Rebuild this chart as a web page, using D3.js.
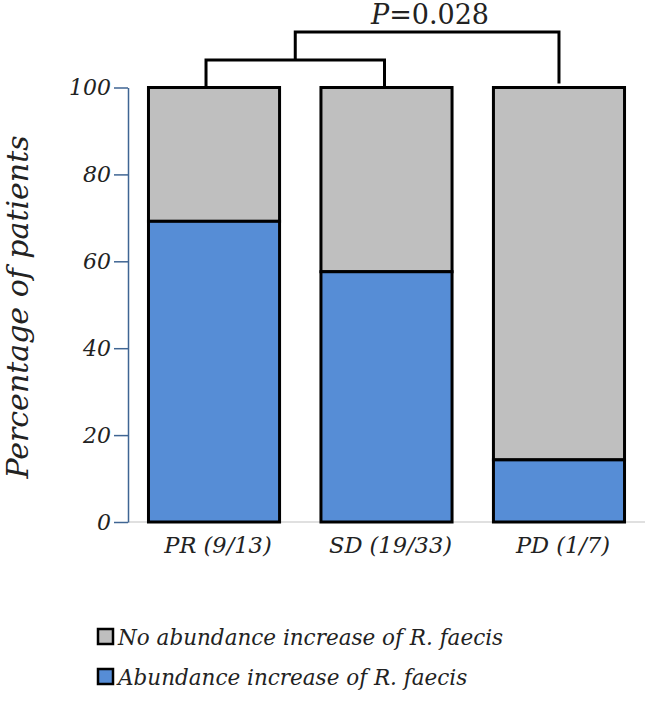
<!DOCTYPE html>
<html>
<head>
<meta charset="utf-8">
<script src="https://cdn.jsdelivr.net/npm/d3@7"></script>
<style>
  body { margin: 0; background: #fff; }
  svg { display: block; }
</style>
</head>
<body>
<svg id="chart" width="650" height="704"></svg>
<script>
const groups = ['PR (9/13)', 'SD (19/33)', 'PD (1/7)'];
const increased = [69.2, 57.6, 14.3];
const notIncreased = [30.8, 42.4, 85.7];
const yTicks = [0, 20, 40, 60, 80, 100];
const legendLabels = ['No abundance increase of R. faecis', 'Abundance increase of R. faecis'];

const blue = '#568dd6';
const grey = '#bfbfbf';
const axisBlue = '#3f6593';
const serif = '"DejaVu Serif", "Liberation Serif", serif';

const svg = d3.select('#chart')
    .attr('font-family', serif)
    .attr('font-style', 'italic');

const x = d3.scaleBand()
    .domain(groups)
    .range([129.5, 643.5])
    .paddingInner(0.24)
    .paddingOuter(0.11);

const y = d3.scaleLinear()
    .domain([0, 100])
    .range([522, 87.5]);

// light baseline under the bars
svg.append('line')
    .attr('x1', 128).attr('x2', 645)
    .attr('y1', y(0)).attr('y2', y(0))
    .attr('stroke', '#d6d6d6')
    .attr('stroke-width', 1.5);

const yAxis = svg.append('g')
    .attr('transform', 'translate(128,0)')
    .call(d3.axisLeft(y).tickValues(yTicks).tickSize(14).tickSizeOuter(0).tickPadding(3));
yAxis.attr('font-family', serif).attr('font-size', 22);
yAxis.select('.domain').attr('stroke', axisBlue).attr('stroke-width', 1.5);
yAxis.selectAll('.tick line').attr('stroke', axisBlue).attr('stroke-width', 1.5);
yAxis.selectAll('.tick text').attr('fill', '#222');

const rows = groups.map((g, i) => ({ g, inc: increased[i], no: notIncreased[i] }));

const bars = svg.append('g');
// grey part on top
bars.selectAll('.no')
    .data(rows)
    .enter()
    .append('rect')
    .attr('x', d => x(d.g))
    .attr('y', d => y(d.inc + d.no))
    .attr('width', x.bandwidth())
    .attr('height', d => y(d.inc) - y(d.inc + d.no))
    .attr('fill', grey)
    .attr('stroke', '#000')
    .attr('stroke-width', 3);
// blue part at the bottom
bars.selectAll('.inc')
    .data(rows)
    .enter()
    .append('rect')
    .attr('x', d => x(d.g))
    .attr('y', d => y(d.inc))
    .attr('width', x.bandwidth())
    .attr('height', d => y(0) - y(d.inc))
    .attr('fill', blue)
    .attr('stroke', '#000')
    .attr('stroke-width', 3);

// category labels
svg.append('g').selectAll('text')
    .data(groups)
    .enter()
    .append('text')
    .attr('x', d => x(d) + x.bandwidth() / 2 + 4)
    .attr('y', 553)
    .attr('text-anchor', 'middle')
    .attr('font-size', 22.5)
    .attr('fill', '#222')
    .text(d => d);

// axis title
svg.append('text')
    .attr('transform', 'translate(28,307) rotate(-90)')
    .attr('text-anchor', 'middle')
    .attr('font-size', 30)
    .attr('fill', '#222')
    .text('Percentage of patients');

// significance brackets
const mid = g => x(g) + x.bandwidth() / 2;
const barTop = y(100);
const lowY = 60, highY = 32;
const leftX = mid(groups[0]) - 8, rightX = mid(groups[1]) - 2;
const joinX = (leftX + rightX) / 2;
svg.append('path')
    .attr('d', `M${leftX},${barTop} V${lowY} H${rightX} V${barTop}`)
    .attr('fill', 'none').attr('stroke', '#000').attr('stroke-width', 3);
svg.append('path')
    .attr('d', `M${joinX},${lowY} V${highY} H${mid(groups[2])} V${barTop - 4}`)
    .attr('fill', 'none').attr('stroke', '#000').attr('stroke-width', 3);

const pText = svg.append('text')
    .attr('x', 430)
    .attr('y', 24)
    .attr('text-anchor', 'middle')
    .attr('font-size', 27)
    .attr('fill', '#222');
pText.append('tspan').text('P');
pText.append('tspan').attr('font-style', 'normal').text('=0.028');

// legend
const legend = svg.append('g');
const legendColors = [grey, blue];
legend.selectAll('rect')
    .data(legendLabels)
    .enter()
    .append('rect')
    .attr('x', 98)
    .attr('y', (d, i) => 629 + i * 40)
    .attr('width', 15)
    .attr('height', 15)
    .attr('fill', (d, i) => legendColors[i])
    .attr('stroke', '#000')
    .attr('stroke-width', 2.5);
legend.selectAll('text')
    .data(legendLabels)
    .enter()
    .append('text')
    .attr('x', 118)
    .attr('y', (d, i) => 645 + i * 40)
    .attr('font-size', 21.5)
    .attr('fill', '#222')
    .text(d => d);
</script>
</body>
</html>
